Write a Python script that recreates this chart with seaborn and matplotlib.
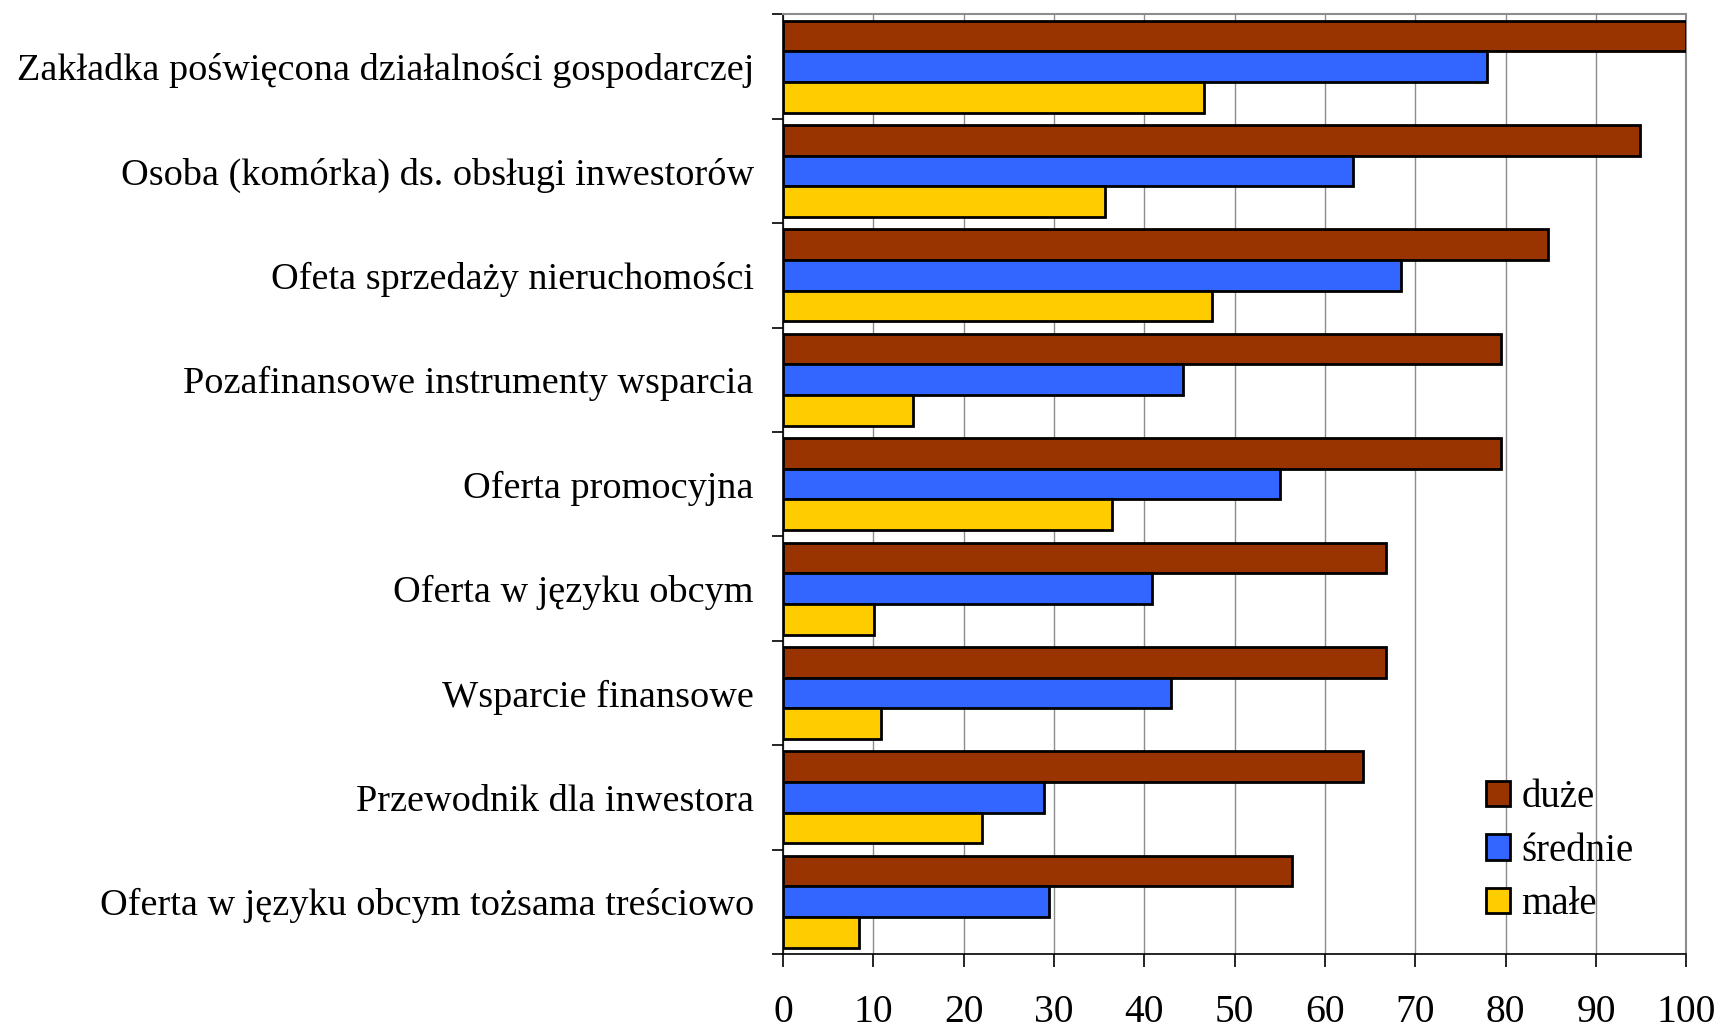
import numpy as np
import pandas as pd
import seaborn as sns
import matplotlib
matplotlib.use("Agg")
import matplotlib.pyplot as plt
from matplotlib.patches import Patch
from matplotlib.ticker import FixedLocator

# Instrumenty wsparcia inwestorów wg wielkości gminy (%)
categories = [
    "Zakładka poświęcona działalności gospodarczej",
    "Osoba (komórka) ds. obsługi inwestorów",
    "Ofeta sprzedaży nieruchomości",
    "Pozafinansowe instrumenty wsparcia",
    "Oferta promocyjna",
    "Oferta w języku obcym",
    "Wsparcie finansowe",
    "Przewodnik dla inwestora",
    "Oferta w języku obcym tożsama treściowo",
]
duze = [100.0, 94.9, 84.7, 79.5, 79.5, 66.7, 66.7, 64.2, 56.4]
srednie = [77.9, 63.1, 68.4, 44.3, 55.0, 40.9, 43.0, 28.9, 29.5]
male = [46.6, 35.6, 47.5, 14.4, 36.4, 10.1, 10.9, 22.0, 8.4]
series = ["duże", "średnie", "małe"]
colors = ["#993300", "#3366FF", "#FFCC00"]
xticks = list(range(0, 101, 10))

df = pd.DataFrame({
    "kategoria": categories * 3,
    "grupa": np.repeat(series, len(categories)),
    "wartosc": duze + srednie + male,
})

sns.set_theme(style="white")
plt.rcParams["font.family"] = ["Liberation Serif", "DejaVu Serif"]
plt.rcParams["text.color"] = "black"
plt.rcParams["xtick.color"] = "black"
plt.rcParams["ytick.color"] = "black"

fig = plt.figure(figsize=(17.19, 10.28), dpi=100)
ax = fig.add_axes([0.4555, 0.072, 0.5255, 0.914])

sns.barplot(
    data=df, y="kategoria", x="wartosc", hue="grupa",
    order=categories, hue_order=series, palette=colors,
    orient="h", width=0.88, gap=0, saturation=1,
    edgecolor="black", linewidth=2.0, errorbar=None,
    legend=False, ax=ax, zorder=3,
)

n = len(categories)
ax.set_xlim(0, 100)
ax.set_ylim(n - 0.5, -0.5)
ax.set_xlabel("")
ax.set_ylabel("")

# vertical grid
ax.set_xticks(xticks)
ax.xaxis.grid(True, color="#8c8c8c", linewidth=1.0, zorder=0)
ax.yaxis.grid(False)
ax.set_axisbelow(True)

# ticks
ax.tick_params(axis="x", which="major", direction="out", length=9, width=1.2,
               color="black", labelcolor="black", labelsize=28.5, pad=20,
               bottom=True)
ax.set_yticks(range(n))
ax.set_yticklabels(categories)
ax.tick_params(axis="y", which="major", length=0, labelsize=27.5, pad=21,
               labelcolor="black")
ax.yaxis.set_minor_locator(FixedLocator(np.arange(-0.5, n, 1.0)))
ax.tick_params(axis="y", which="minor", direction="out", length=8, width=1.2,
               color="black", left=True)

for side in ["left", "bottom"]:
    ax.spines[side].set_color("black")
    ax.spines[side].set_linewidth(1.2)
for side in ["top", "right"]:
    ax.spines[side].set_color("#8c8c8c")
    ax.spines[side].set_linewidth(1.5)

handles = [Patch(facecolor=c, edgecolor="black", linewidth=2.0) for c in colors]
ax.legend(handles, series, loc="center left", bbox_to_anchor=(0.778, 0.1095),
          frameon=False, fontsize=28, handlelength=0.62, handleheight=0.62,
          handletextpad=0.3, labelspacing=0.42, borderpad=0, borderaxespad=0)

fig.savefig("out.png", dpi=100)
